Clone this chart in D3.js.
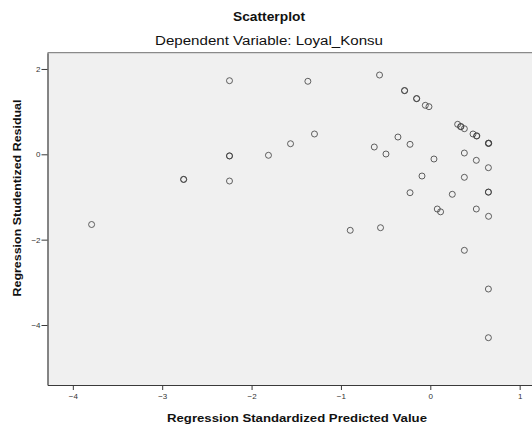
<!DOCTYPE html>
<html><head><meta charset="utf-8">
<script src="https://cdn.jsdelivr.net/npm/d3@7"></script>
<style>body{margin:0;background:#fff}svg{display:block}</style>
</head><body>
<svg id="c" width="532" height="428"></svg>
<script>
// Regression Standardized Predicted Value
const predicted = [-3.79,-2.76,-2.76,-2.247,-2.247,-2.247,-2.247,-1.811,-1.564,-1.370,-1.296,-0.896,-0.627,-0.568,-0.557,-0.496,-0.362,-0.288,-0.288,-0.227,-0.227,-0.153,-0.153,-0.093,-0.056,-0.015,0.041,0.078,0.115,0.246,0.306,0.339,0.343,0.381,0.381,0.381,0.381,0.478,0.518,0.521,0.515,0.515,0.650,0.654,0.652,0.650,0.650,0.650,0.652,0.650,0.650];
// Regression Studentized Residual
const residual  = [-1.645,-0.586,-0.590,1.725,-0.040,-0.036,-0.626,-0.023,0.248,1.711,0.476,-1.781,0.171,1.858,-1.720,0.007,0.405,1.491,1.495,0.234,-0.900,1.303,1.307,-0.509,1.148,1.116,-0.110,-1.282,-1.348,-0.937,0.703,0.647,0.651,0.600,0.030,-0.539,-2.250,0.476,0.429,0.433,-0.141,-1.282,0.258,0.262,0.254,-0.314,-0.884,-0.888,-1.453,-3.157,-4.298];
const xTicks = [-4,-3,-2,-1,0,1];
const yTicks = [2,0,-2,-4];

const svg = d3.select("#c");
const L = 47.5, R = 540, T = 52.7, B = 385;
const x = d3.scaleLinear().domain([-4.2835, 1.2275]).range([L, R]);
const y = d3.scaleLinear().domain([-5.406, 2.381]).range([B, T]);

svg.append("rect").attr("x", L).attr("y", T).attr("width", R - L).attr("height", B - T).attr("fill", "#f0f0f0");
svg.append("line").attr("x1", L).attr("x2", R).attr("y1", T).attr("y2", T).attr("stroke", "#8a8a8a").attr("stroke-width", 1.2);

const fontF = "Arial, 'Liberation Sans', sans-serif";

const xa = svg.append("g").attr("transform", `translate(0,${B})`)
  .call(d3.axisBottom(x).tickValues(xTicks).tickSizeInner(5).tickSizeOuter(0).tickPadding(3).tickFormat(d3.format("d")));
const ya = svg.append("g").attr("transform", `translate(${L},0)`)
  .call(d3.axisLeft(y).tickValues(yTicks).tickSizeInner(6).tickSizeOuter(0).tickPadding(1).tickFormat(d3.format("d")));
[xa, ya].forEach(a => {
  a.select(".domain").attr("stroke", "#3a3a3a").attr("stroke-width", 1.2);
  a.selectAll(".tick line").attr("stroke", "#3a3a3a");
  a.selectAll(".tick text").attr("fill", "#333").style("font-family", fontF).style("font-size", "8px");
});

svg.append("g").selectAll("circle").data(predicted.map((p, i) => [p, residual[i]]))
  .join("circle")
  .attr("cx", d => x(d[0])).attr("cy", d => y(d[1])).attr("r", 3)
  .attr("fill", "none").attr("stroke", "#3c3c3c").attr("stroke-opacity", 0.8).attr("stroke-width", 1);

svg.append("text").attr("x", 269).attr("y", 21).attr("text-anchor", "middle")
  .style("font-family", fontF).style("font-weight", "bold").style("font-size", "12.5px").attr("fill", "#111")
  .attr("textLength", 72).attr("lengthAdjust", "spacingAndGlyphs").text("Scatterplot");
svg.append("text").attr("x", 269).attr("y", 45).attr("text-anchor", "middle")
  .style("font-family", fontF).style("font-size", "12.5px").attr("fill", "#111")
  .attr("textLength", 228).attr("lengthAdjust", "spacingAndGlyphs").text("Dependent Variable: Loyal_Konsu");
svg.append("text").attr("x", 297).attr("y", 422).attr("text-anchor", "middle")
  .style("font-family", fontF).style("font-weight", "bold").style("font-size", "11.5px").attr("fill", "#111")
  .attr("textLength", 260).attr("lengthAdjust", "spacingAndGlyphs").text("Regression Standardized Predicted Value");
svg.append("text").attr("transform", "translate(21,198) rotate(-90)").attr("text-anchor", "middle")
  .style("font-family", fontF).style("font-weight", "bold").style("font-size", "11.5px").attr("fill", "#111")
  .attr("textLength", 197).attr("lengthAdjust", "spacingAndGlyphs").text("Regression Studentized Residual");
</script>
</body></html>
